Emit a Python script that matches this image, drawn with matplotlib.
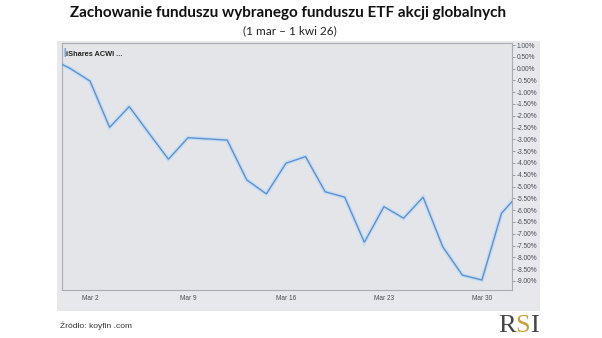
import matplotlib.pyplot as plt

# trading-day index (Feb 26 = -1, Feb 27 = 0, Mar 2 = 1 ... Apr 1 = 23); ends are clipped by the view
day_idx = list(range(-1, 24))
pct = [0.42, 0.0, -0.53, -2.49, -1.61, -2.73, -3.84, -2.93, -2.98, -3.03,
       -4.72, -5.31, -4.01, -3.73, -5.22, -5.45, -7.36, -5.85, -6.34, -5.45,
       -7.55, -8.75, -8.96, -6.13, -5.21]

tick_pos = [1, 6, 11, 16, 21]
tick_lab = ['Mar 2', 'Mar 9', 'Mar 16', 'Mar 23', 'Mar 30']
y_ticks = [1.0 - 0.5 * k for k in range(21)]

W, H = 602, 338
fig = plt.figure(figsize=(W / 100, H / 100), dpi=100)
fig.patch.set_facecolor('white')

# gray panel behind the chart
bg = fig.add_axes([57 / W, 1 - 311 / H, 483 / W, 270 / H])
bg.set_facecolor('#e6e8eb')
bg.set_xticks([])
bg.set_yticks([])
for s in bg.spines.values():
    s.set_visible(False)

ax = fig.add_axes([62 / W, 1 - 290.4 / H, 449.7 / W, 247.4 / H])
ax.set_facecolor('#e3e5e8')
for s in ax.spines.values():
    s.set_color('#a9adb3')
    s.set_linewidth(0.8)

ax.plot(day_idx, pct, color='#c6ddf4', lw=3.0, solid_joinstyle='miter', zorder=2)
ax.plot(day_idx, pct, color='#6090cc', lw=1.0, solid_joinstyle='miter', zorder=3)

ax.set_xlim(-0.43, 22.52)
ax.set_ylim(-9.40, 1.085)

ax.yaxis.tick_right()
ax.set_yticks(y_ticks)
ax.set_yticklabels(['%.2f%%' % v for v in y_ticks])
ax.tick_params(axis='y', length=2.5, width=0.6, color='#8a8e94', pad=1,
               labelsize=4.7, labelcolor='#4a4d52')
ax.set_xticks(tick_pos)
ax.set_xticklabels(tick_lab)
ax.tick_params(axis='x', length=0, pad=3.5, labelsize=4.7, labelcolor='#4a4d52')
for lab in ax.get_xticklabels() + ax.get_yticklabels():
    lab.set_family('Liberation Sans')

# legend tag
ax.text(0.003, 0.978, '|', transform=ax.transAxes, color='#5f8fcc', fontsize=6.5,
        va='top', ha='left', family='Liberation Sans', fontweight='bold')
ax.text(0.010, 0.968, 'iShares ACWI ...', transform=ax.transAxes, fontsize=5.3,
        va='top', ha='left', family='Liberation Sans', fontweight='bold',
        color='#222222')

fig.text(288.5 / W, 1 - 13.5 / H, 'Zachowanie funduszu wybranego funduszu ETF akcji globalnych',
         ha='center', va='center', fontsize=11.0, fontweight='bold', family='Lato',
         color='#111111')
fig.text(289.6 / W, 1 - 31 / H, '(1 mar \u2013 1 kwi 26)', ha='center', va='center',
         fontsize=8.5, family='Lato', color='#222222')

fig.text(60 / W, 1 - 326 / H, 'Źródło: koyfin .com', ha='left', va='center',
         fontsize=6, family='Liberation Sans', color='#333333')

# RSI logo
fig.text(498 / W, 1 - 332 / H, 'R', ha='left', va='baseline', fontsize=19,
         family='Liberation Serif', color='#464646')
fig.text(515.4 / W, 1 - 332 / H, 'S', ha='left', va='baseline', fontsize=19,
         family='Liberation Serif', color='#c9a23c')
fig.text(529.8 / W, 1 - 332 / H, 'I', ha='left', va='baseline', fontsize=19,
         family='Liberation Serif', color='#464646')

fig.savefig('out.png', dpi=100)
